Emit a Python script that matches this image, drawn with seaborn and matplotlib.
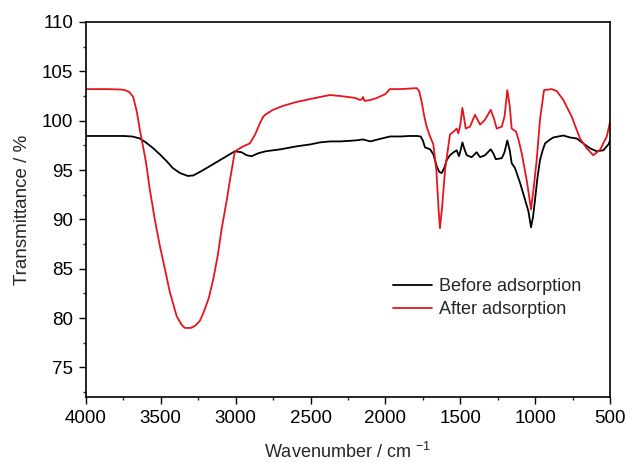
import numpy as np
import pandas as pd
import matplotlib
matplotlib.use('Agg')
import matplotlib.pyplot as plt
from matplotlib.ticker import MultipleLocator
import seaborn as sns

# ===============================
# FTIR spectra
# ===============================
before_wn = [4000, 3850, 3750, 3690, 3640, 3600, 3550, 3500, 3461, 3420, 3372, 3320,
             3283, 3240, 3194, 3150, 3105, 3050, 3005, 2960, 2927, 2893, 2849, 2800,
             2700, 2593, 2500, 2437, 2370, 2300, 2200, 2150, 2100, 2050, 1970, 1900,
             1840, 1790, 1765, 1750, 1736, 1702, 1680, 1658, 1640, 1624, 1605, 1591,
             1569, 1545, 1524, 1509, 1498, 1486, 1472, 1457, 1424, 1391, 1368, 1335,
             1297, 1280, 1263, 1223, 1205, 1186, 1170, 1157, 1135, 1101, 1068, 1045,
             1028, 1015, 1001, 985, 968, 950, 934, 900, 879, 812, 768, 723, 679, 634,
             589, 545, 511, 500]
before_t = [98.45, 98.45, 98.45, 98.4, 98.2, 97.8, 97.2, 96.5, 95.9, 95.2, 94.7, 94.4,
            94.45, 94.8, 95.2, 95.6, 96.0, 96.5, 96.9, 96.8, 96.5, 96.4, 96.7, 96.9,
            97.1, 97.4, 97.6, 97.8, 97.9, 97.9, 98.0, 98.1, 97.9, 98.1, 98.4, 98.4,
            98.45, 98.45, 98.4, 98.0, 97.3, 97.1, 96.6, 95.4, 94.8, 94.7, 95.3, 96.0,
            96.5, 96.8, 97.0, 96.4, 97.0, 97.8, 97.1, 96.5, 96.3, 96.8, 96.3, 96.5,
            97.1, 96.7, 96.1, 96.2, 96.8, 98.0, 97.0, 95.7, 95.2, 93.7, 92.0, 90.8,
            89.2, 90.2, 92.0, 94.2, 96.0, 97.0, 97.7, 98.1, 98.3, 98.5, 98.3, 98.2,
            97.7, 97.2, 96.9, 97.0, 97.6, 98.0]

after_wn = [4000, 3850, 3760, 3740, 3710, 3684, 3660, 3640, 3600, 3573, 3540, 3506,
            3470, 3439, 3394, 3360, 3339, 3300, 3272, 3240, 3216, 3180, 3150, 3120,
            3094, 3060, 3038, 3005, 2950, 2905, 2870, 2838, 2816, 2804, 2750, 2684,
            2593, 2500, 2437, 2370, 2300, 2200, 2170, 2155, 2150, 2140, 2100, 2058,
            2000, 1970, 1900, 1791, 1775, 1758, 1740, 1725, 1702, 1680, 1660, 1645,
            1636, 1620, 1602, 1569, 1545, 1524, 1513, 1500, 1486, 1475, 1464, 1435,
            1402, 1385, 1368, 1335, 1297, 1275, 1257, 1223, 1205, 1186, 1170, 1157,
            1128, 1110, 1090, 1057, 1040, 1028, 1010, 990, 968, 941, 890, 856, 812,
            756, 701, 656, 612, 567, 522, 500]
after_t = [103.2, 103.2, 103.15, 103.1, 102.9, 102.4, 100.9, 99.1, 95.9, 93.0, 90.0, 87.3,
           84.8, 82.6, 80.2, 79.3, 79.0, 79.0, 79.2, 79.7, 80.5, 82.0, 83.9, 86.3,
           89.0, 91.9, 94.0, 96.9, 97.4, 97.7, 98.6, 99.75, 100.4, 100.6, 101.1, 101.5,
           101.9, 102.2, 102.4, 102.6, 102.5, 102.3, 102.1, 102.2, 102.4, 102.0, 102.1, 102.3,
           102.7, 103.2, 103.2, 103.3, 103.0, 101.9, 100.4, 99.4, 98.4, 97.6, 95.0, 91.0,
           89.1, 91.5, 95.0, 98.6, 98.9, 99.2, 98.7, 99.6, 101.3, 100.3, 99.2, 99.4,
           100.6, 100.1, 99.6, 100.1, 101.1, 100.2, 99.2, 99.4, 100.4, 103.1, 101.5, 99.2,
           98.9, 98.0, 96.7, 94.0, 92.3, 91.0, 93.2, 96.0, 100.1, 103.1, 103.2, 103.0, 102.1,
           100.4, 98.2, 97.2, 96.5, 97.05, 98.4, 99.9]

labels = ['Before adsorption', 'After adsorption']
colors = ['black', '#e8141c']

df = pd.concat([
    pd.DataFrame({'wavenumber': before_wn, 'T': before_t, 'sample': labels[0]}),
    pd.DataFrame({'wavenumber': after_wn, 'T': after_t, 'sample': labels[1]}),
])

# ===============================
# Plot
# ===============================
sns.set_style('ticks')
plt.rcParams['font.family'] = ['Liberation Sans', 'DejaVu Sans']
plt.rcParams['mathtext.default'] = 'regular'

fig = plt.figure(figsize=(6.27, 4.63), dpi=100)
ax = fig.add_axes([0.137, 0.1425, 0.836, 0.81])

sns.lineplot(data=df, x='wavenumber', y='T', hue='sample', palette=colors,
             linewidth=1.3, ax=ax, estimator=None, sort=True)

ax.set_xlim(4000, 500)
ax.set_ylim(72, 110)
ax.xaxis.set_major_locator(MultipleLocator(500))
ax.xaxis.set_minor_locator(MultipleLocator(250))
ax.yaxis.set_major_locator(MultipleLocator(5))
ax.yaxis.set_minor_locator(MultipleLocator(2.5))
ax.tick_params(which='major', direction='out', length=5, width=1, labelsize=13.5,
               top=False, right=False, colors='black', pad=4)
ax.tick_params(which='minor', direction='out', length=2.5, width=1,
               top=False, right=False)
for s in ax.spines.values():
    s.set_linewidth(1.2)
    s.set_color('black')

ax.set_xlabel('Wavenumber / cm $^{-1}$', fontsize=13, labelpad=11)
ax.set_ylabel('Transmittance / %', fontsize=13.5, labelpad=8)

ax.legend(loc='center left', bbox_to_anchor=(0.554, 0.264), frameon=False,
          fontsize=13, handlelength=2.2, handletextpad=0.4, labelspacing=0.35)

plt.savefig('out.png', dpi=100)
plt.close()
